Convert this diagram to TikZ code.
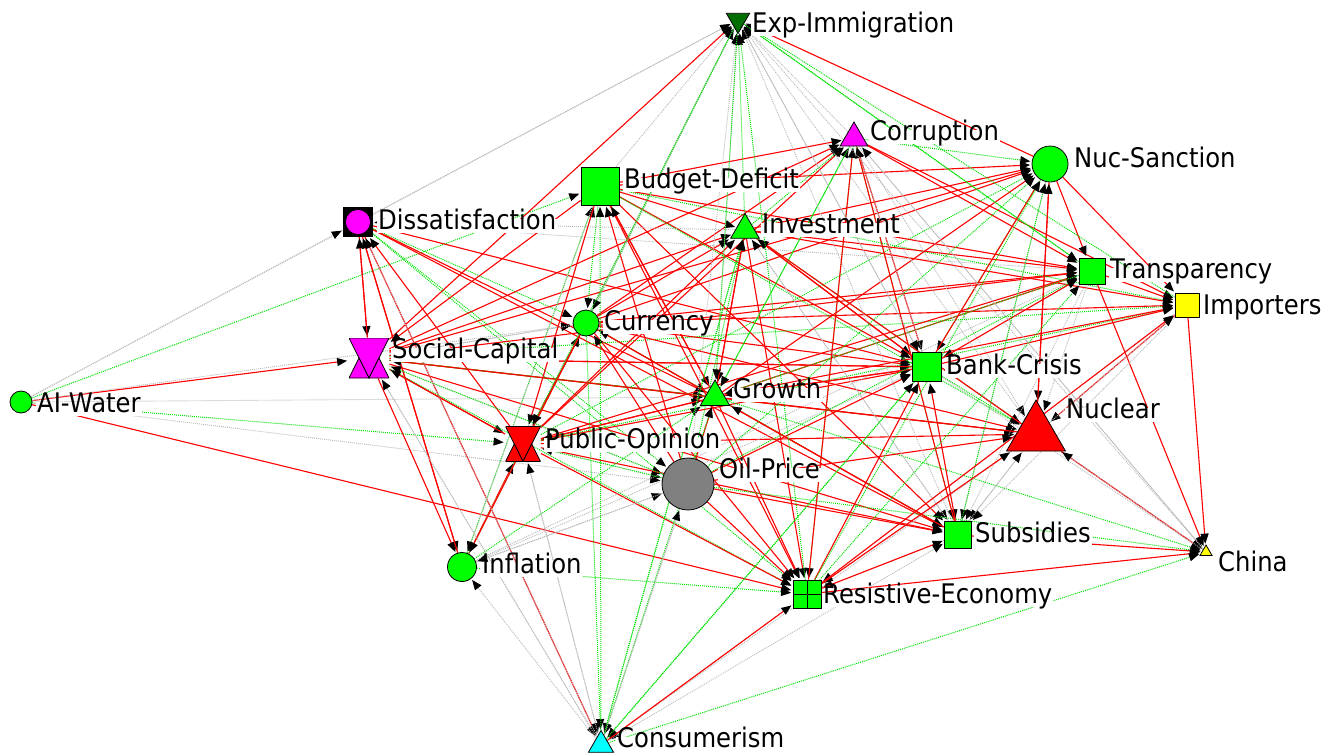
\documentclass[tikz,border=0pt]{standalone}
\usepackage{fontspec}
\setmainfont{DejaVu Sans}[FakeStretch=0.9]
\usetikzlibrary{shapes.geometric,arrows.meta,backgrounds,calc}

\definecolor{ngreen}{RGB}{0,255,0}
\definecolor{ndark}{RGB}{0,110,0}
\definecolor{nmag}{RGB}{255,0,255}
\definecolor{nred}{RGB}{255,0,0}
\definecolor{nyel}{RGB}{255,255,0}
\definecolor{ncyan}{RGB}{0,255,255}
\definecolor{ngray}{RGB}{128,128,128}
\definecolor{ered}{RGB}{255,0,0}
\definecolor{egreen}{RGB}{0,225,0}
\definecolor{egray}{RGB}{185,185,185}

\begin{document}
\begin{tikzpicture}[x=1pt, y=-1pt,
    rd/.style={draw=ered, line width=1.1pt},
    gn/.style={draw=egreen, line width=1pt, dash pattern=on 1pt off 1pt},
    gy/.style={draw=egray, line width=0.9pt, dash pattern=on 1pt off 1pt},
    every edge/.append style={-{Triangle[length=10pt,width=8pt,color=black]}, shorten >=1.5pt},
    lbl/.style={anchor=west, fill=white, inner sep=1pt, text height=0.95em, text depth=0.22em, font=\fontsize{27}{30}\selectfont},
    sq/.style={rectangle},
    tri/.style={regular polygon, regular polygon sides=3},
    dot/.style={circle},
    hglass/.style={rectangle, draw=none, path picture={
        \filldraw[fill=#1, draw=black, line width=0.8pt] (path picture bounding box.north west) -- (path picture bounding box.north east) -- (path picture bounding box.south) -- cycle;
        \filldraw[fill=#1, draw=black, line width=0.8pt] (path picture bounding box.south west) -- (path picture bounding box.south) -- ($(path picture bounding box.west)!0.5!(path picture bounding box.center)$) -- cycle;
        \filldraw[fill=#1, draw=black, line width=0.8pt] (path picture bounding box.south) -- (path picture bounding box.south east) -- ($(path picture bounding box.east)!0.5!(path picture bounding box.center)$) -- cycle;
    }}]

    \useasboundingbox (0,0) rectangle (1338,753);

    {
        \tikzset{every node/.style={draw=black, line width=0.8pt, inner sep=0pt}}

        \node[tri, shape border rotate=180, fill=ndark, minimum size=27pt] (exp) at (738,20) {};
        \node[tri, fill=nmag, minimum size=32pt] (cor) at (854,138) {};
        \node[dot, fill=ngreen, minimum size=36pt] (nuc) at (1050,164) {};
        \node[sq, fill=ngreen, minimum size=38pt] (bud) at (600,186) {};
        \node[sq, fill=black, minimum size=29pt, path picture={\filldraw[fill=nmag, draw=black, line width=0.6pt] (path picture bounding box.center) circle (12.5pt);}] (dis) at (358,222) {};
        \node[tri, fill=ngreen, minimum size=33pt] (inv) at (745,230) {};
        \node[sq, fill=ngreen, minimum size=26pt] (tra) at (1092,271) {};
        \node[sq, fill=nyel, minimum size=24pt] (imp) at (1187,305) {};
        \node[dot, fill=ngreen, minimum size=26pt] (cur) at (586,323) {};
        \node[hglass=nmag, minimum size=40pt] (soc) at (369,358) {};
        \node[sq, fill=ngreen, minimum size=29pt] (ban) at (927,367) {};
        \node[dot, fill=ngreen, minimum size=22pt] (aiw) at (21,402) {};
        \node[tri, fill=ngreen, minimum size=34pt] (gro) at (715,397) {};
        \node[tri, fill=nred, minimum size=68pt] (ncl) at (1036,434) {};
        \node[hglass=nred, minimum size=35pt] (pub) at (523,444) {};
        \node[dot, fill=ngray, minimum size=52pt] (oil) at (688,484) {};
        \node[sq, fill=ngreen, minimum size=27pt] (sub) at (958,535) {};
        \node[tri, fill=nyel, minimum size=14pt] (chi) at (1206,552) {};
        \node[dot, fill=ngreen, minimum size=29pt] (inf) at (462,567) {};
        \node[sq, fill=ngreen, minimum size=28pt, path picture={\draw[line width=0.8pt] (path picture bounding box.north) -- (path picture bounding box.south) (path picture bounding box.west) -- (path picture bounding box.east);}] (res) at (807,594) {};
        \node[tri, fill=ncyan, minimum size=29pt] (con) at (601,745) {};
    }

    \begin{pgfonlayer}{background}
        \draw (aiw) edge[rd] (soc) edge[rd] (res) edge[gy] (exp) edge[gy] (dis) edge[gn] (bud) edge[gy] (cur) edge[gy] (gro) edge[gn] (pub) edge[gy] (oil);
        \draw (dis) edge[rd] (soc) edge[rd] (inf) edge[rd] (gro) edge[rd] (sub) edge[rd] (ban) edge[rd] (con) edge[gn] (res) edge[gn] (oil) edge[gy] (exp) edge[gn] (cur) edge[gy] (tra);
        \draw (soc) edge[rd] (dis) edge[rd] (exp) edge[rd] (cor) edge[rd] (nuc) edge[rd] (tra) edge[rd] (inv) edge[rd] (gro) edge[rd] (ban) edge[rd] (pub) edge[rd] (sub) edge[rd] (inf) edge[gn] (res) edge[gn] (imp) edge[gy] (cur) edge[gn] (ncl) edge[gy] (con) edge[gy] (oil);
        \draw (pub) edge[rd] (soc) edge[rd] (gro) edge[rd] (cur) edge[rd] (inv) edge[rd] (ban) edge[rd] (ncl) edge[rd] (cor) edge[rd] (tra) edge[rd] (res) edge[rd] (sub) edge[rd] (dis) edge[gn] (inf) edge[gy] (con) edge[gy] (oil) edge[gn] (imp) edge[gn] (nuc) edge[gy] (exp) edge[gy] (bud);
        \draw (inf) edge[rd] (pub) edge[rd] (dis) edge[gn] (cur) edge[gn] (bud) edge[gy] (ban) edge[gn] (gro) edge[gn] (res) edge[gy] (oil) edge[gy] (exp) edge[gy] (tra);
        \draw (cur) edge[rd] (pub) edge[rd] (gro) edge[rd] (inv) edge[rd] (ban) edge[rd] (ncl) edge[rd] (tra) edge[rd] (imp) edge[rd] (nuc) edge[rd] (cor) edge[gn] (sub) edge[rd] (res) edge[gn] (con) edge[gy] (soc) edge[gn] (exp) edge[rd] (inf);
        \draw (bud) edge[gn] (cur) edge[rd] (inv) edge[rd] (gro) edge[rd] (ban) edge[rd] (tra) edge[rd] (nuc) edge[rd] (cor) edge[rd] (pub) edge[rd] (soc) edge[rd] (res) edge[rd] (sub) edge[gy] (exp) edge[gn] (imp) edge[gy] (inf) edge[gn] (ncl);
        \draw (inv) edge[rd] (gro) edge[gn] (cor) edge[rd] (nuc) edge[rd] (tra) edge[rd] (imp) edge[rd] (ban) edge[rd] (res) edge[gy] (sub) edge[gy] (chi) edge[gn] (exp) edge[gn] (ncl) edge[gn] (con) edge[gy] (dis);
        \draw (gro) edge[rd] (inv) edge[rd] (cur) edge[rd] (ban) edge[rd] (ncl) edge[rd] (tra) edge[rd] (imp) edge[rd] (nuc) edge[rd] (res) edge[rd] (sub) edge[gn] (cor) edge[gn] (chi) edge[gy] (exp) edge[rd] (pub) edge[rd] (bud) edge[gn] (soc);
        \draw (cor) edge[rd] (tra) edge[rd] (imp) edge[rd] (ban) edge[gn] (sub) edge[gn] (nuc) edge[gy] (chi) edge[gy] (exp) edge[gn] (res) edge[gn] (gro) edge[gy] (ncl);
        \draw (nuc) edge[rd] (tra) edge[rd] (imp) edge[rd] (exp) edge[rd] (ncl) edge[gy] (sub) edge[gn] (ban);
        \draw (tra) edge[rd] (imp) edge[rd] (chi) edge[gy] (ncl) edge[gy] (sub) edge[gn] (exp) edge[gy] (ban) edge[gn] (gro);
        \draw (imp) edge[rd] (ncl) edge[rd] (chi) edge[gn] (exp) edge[gy] (sub) edge[gy] (res);
        \draw (ban) edge[rd] (nuc) edge[rd] (tra) edge[rd] (imp) edge[gn] (ncl) edge[gy] (sub) edge[gy] (chi) edge[gn] (con) edge[rd] (soc) edge[rd] (inv) edge[rd] (gro) edge[gy] (exp) edge[gy] (cor);
        \draw (ncl) edge[rd] (nuc) edge[rd] (chi) edge[gy] (sub) edge[gy] (con) edge[rd] (inv) edge[rd] (soc) edge[gy] (exp) edge[gy] (imp) edge[gy] (res);
        \draw (oil) edge[rd] (gro) edge[rd] (ban) edge[rd] (ncl) edge[rd] (sub) edge[rd] (res) edge[rd] (cur) edge[rd] (bud) edge[gn] (chi) edge[gn] (tra) edge[gn] (nuc) edge[gn] (inv) edge[gn] (soc) edge[gy] (exp) edge[gy] (con) edge[gn] (pub) edge[gy] (inf);
        \draw (sub) edge[rd] (ban) edge[rd] (chi) edge[gy] (res) edge[gy] (ncl) edge[gn] (nuc) edge[rd] (cor) edge[gy] (inv) edge[gy] (exp) edge[rd] (gro);
        \draw (res) edge[rd] (ban) edge[rd] (ncl) edge[rd] (imp) edge[rd] (chi) edge[rd] (sub) edge[gn] (tra) edge[gn] (exp) edge[gn] (nuc) edge[rd] (cor) edge[gy] (con);
        \draw (con) edge[rd] (res) edge[gy] (inf) edge[gn] (chi) edge[gn] (gro) edge[gn] (inv) edge[gy] (soc) edge[gy] (pub) edge[gy] (oil) edge[gy] (sub) edge[gn] (bud) edge[gn] (ban) edge[gy] (dis);
        \draw (chi) edge[gy] (ncl) edge[gy] (exp) edge[gy] (cor);
        \draw (exp) edge[gn] (gro) edge[gy] (cur) edge[gn] (pub) edge[gy] (ban) edge[gn] (tra);
    \end{pgfonlayer}

    \node[lbl] (expl) at (751,29) {Exp-Immigration};
    \node[lbl] (corl) at (869,137) {Corruption};
    \node[lbl] (nucl) at (1073,164) {Nuc-Sanction};
    \node[lbl] (budl) at (623,185) {Budget-Deficit};
    \node[lbl] (disl) at (377,226) {Dissatisfaction};
    \node[lbl] (invl) at (761,230) {Investment};
    \node[lbl] (tral) at (1109,275) {Transparency};
    \node[lbl] (impl) at (1202,311) {Importers};
    \node[lbl] (curl) at (603,327) {Currency};
    \node[lbl] (socl) at (391,355) {Social-Capital};
    \node[lbl] (banl) at (945,371) {Bank-Crisis};
    \node[lbl] (aiwl) at (36,409) {AI-Water};
    \node[lbl] (grol) at (732,395) {Growth};
    \node[lbl] (ncll) at (1065,415) {Nuclear};
    \node[lbl] (publ) at (544,445) {Public-Opinion};
    \node[lbl] (oill) at (718,475) {Oil-Price};
    \node[lbl] (subl) at (974,539) {Subsidies};
    \node[lbl] (chil) at (1217,568) {China};
    \node[lbl] (infl) at (481,570) {Inflation};
    \node[lbl] (resl) at (822,600) {Resistive-Economy};
    \node[lbl] (conl) at (616,744) {Consumerism};

\end{tikzpicture}
\end{document}
